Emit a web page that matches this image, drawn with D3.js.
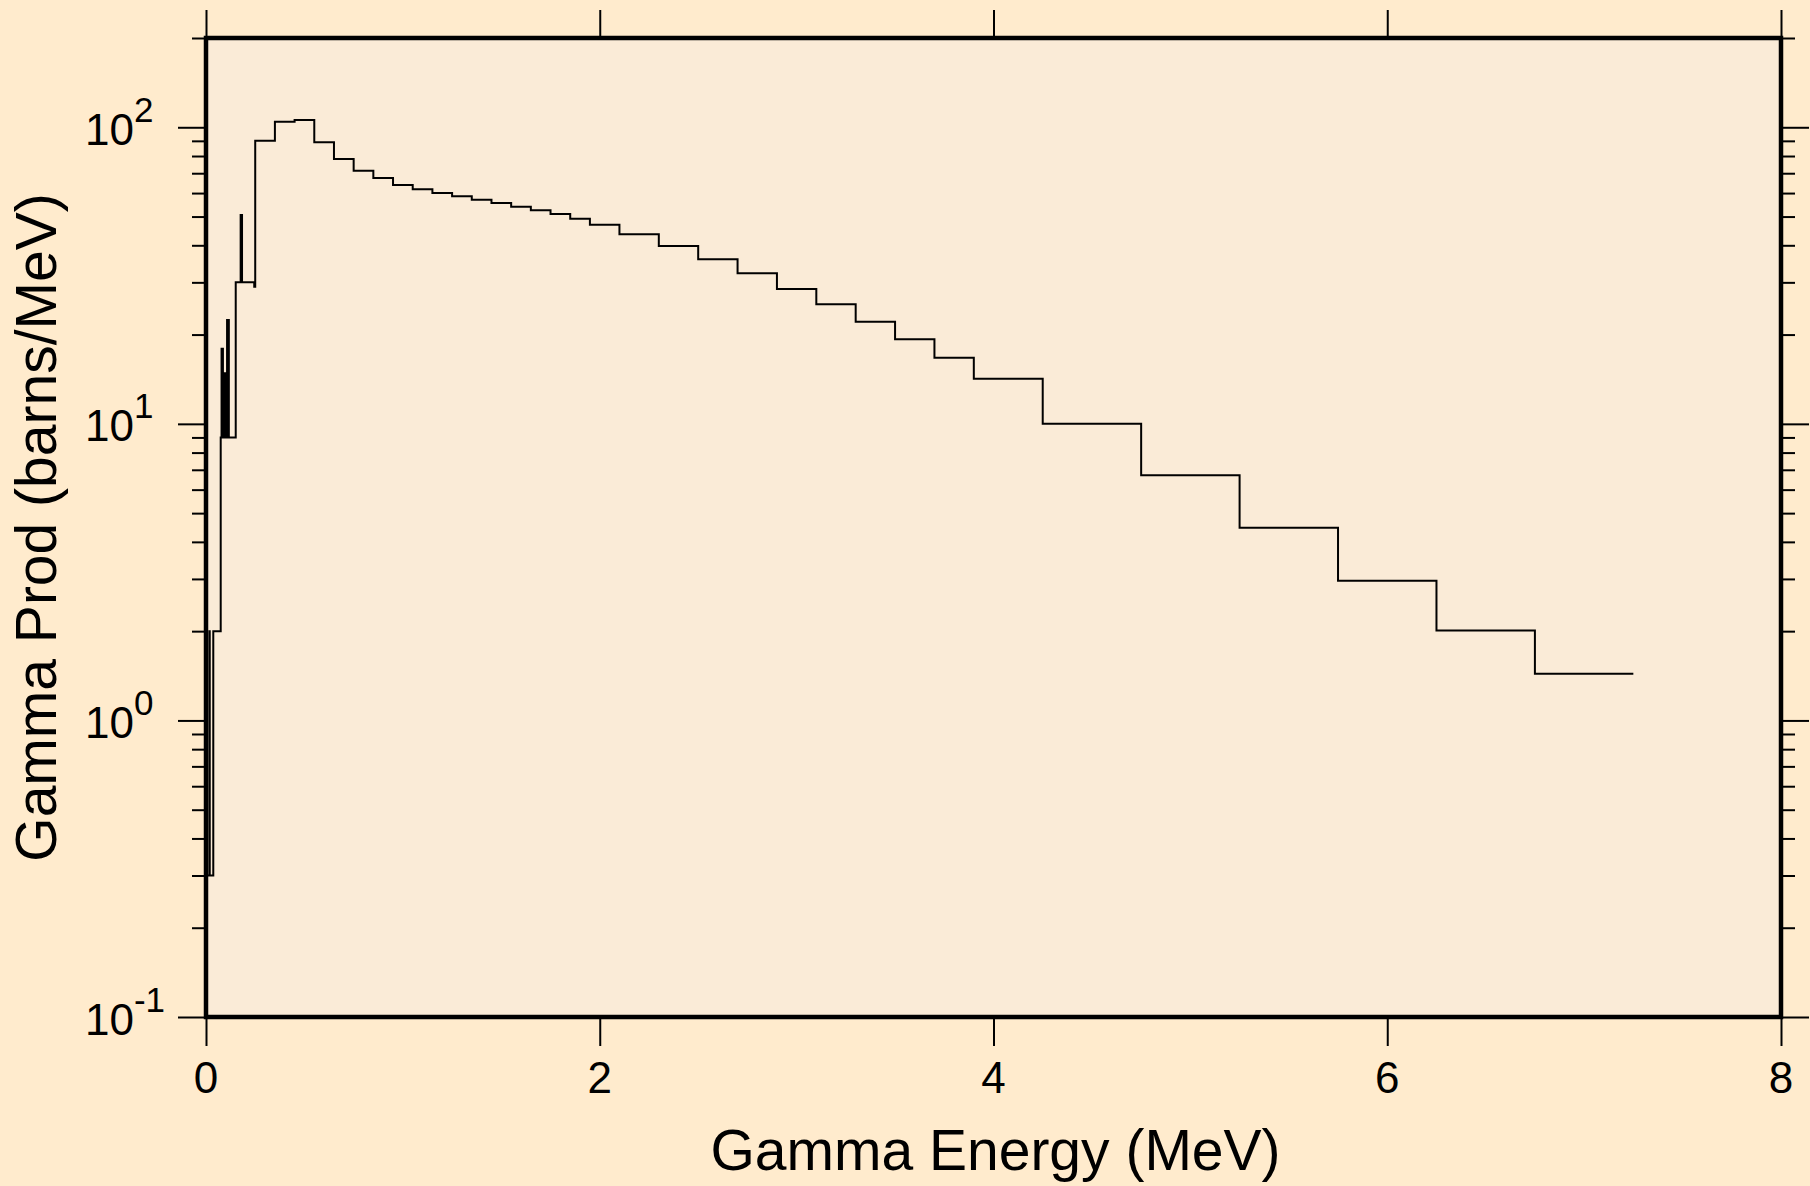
<!DOCTYPE html>
<html><head><meta charset="utf-8">
<script src="https://cdn.jsdelivr.net/npm/d3@7"></script>
<style>
html,body{margin:0;padding:0;background:#FFEBCD;}
svg{display:block;}
text{font-family:"Liberation Sans",Arial,Helvetica,sans-serif;fill:#000;}
</style>
</head><body>
<svg id="chart" width="1810" height="1186"></svg>
<script>
// Bin edges (MeV) and step values (barns/MeV)
const binEdges = [0.005, 0.017, 0.019, 0.037, 0.0747, 0.079, 0.081, 0.083, 0.086, 0.089, 0.092, 0.095, 0.098, 0.101, 0.104, 0.107, 0.110, 0.113, 0.116,
  0.151, 0.176, 0.183, 0.245, 0.25, 0.35, 0.45, 0.55, 0.65, 0.75, 0.85, 0.95, 1.05, 1.15, 1.25, 1.35, 1.45, 1.55, 1.65, 1.75, 1.85, 1.95,
  2.1, 2.3, 2.5, 2.7, 2.9, 3.1, 3.3, 3.5, 3.7, 3.9, 4.25, 4.75, 5.25, 5.75, 6.25, 6.75, 7.25];
const binValues = [0.3, 2.0, 0.3, 2.0, 9.0, 17.9, 9.0, 17.9, 9.0, 14.8, 9.0, 14.8, 9.0, 14.8, 9.0, 22.4, 9.0, 22.4, 9.0,
  30.0, 50.6, 30.0, 29.0, 90.1, 104.4, 105.8, 89.0, 78.2, 71.4, 67.4, 63.9, 61.8, 60.0, 58.5, 57.0, 55.5, 54.0, 52.5, 51.0, 49.2,
  46.9, 43.6, 39.8, 35.9, 32.2, 28.5, 25.3, 22.1, 19.3, 16.7, 14.2, 10.0, 6.71, 4.46, 2.96, 2.01, 1.437];
const baseValue = 0.1;

const xTickValues = [0, 2, 4, 6, 8];
const xTickLabels = ["0", "2", "4", "6", "8"];
const yMajorTicks = [0.1, 1, 10, 100];
const yTickExponents = ["-1", "0", "1", "2"];
const yMinorTicks = [0.2,0.3,0.4,0.5,0.6,0.7,0.8,0.9, 2,3,4,5,6,7,8,9, 20,30,40,50,60,70,80,90, 200];
const xTitle = "Gamma Energy (MeV)";
const yTitle = "Gamma Prod (barns/MeV)";

const svg = d3.select("#chart");
const L = 206, R = 1781, T = 38, B = 1017;
const x = d3.scaleLinear().domain([0, 8]).range([L, R]);
const y = d3.scaleLog().domain([0.1, 200]).range([B, T]);

svg.append("rect").attr("width", 1810).attr("height", 1186).attr("fill", "#FFEBCD");
svg.append("rect").attr("x", L).attr("y", T).attr("width", R - L).attr("height", B - T).attr("fill", "#FAEBD7");

// ticks
function styleAxis(g) {
  g.select(".domain").remove();
  g.selectAll(".tick line").attr("stroke", "#000").attr("stroke-width", 2);
  g.selectAll(".tick text").remove();
}
svg.append("g").attr("transform", `translate(${L},0)`).call(d3.axisLeft(y).tickValues(yMajorTicks).tickSize(28).tickFormat(() => "")).call(styleAxis);
svg.append("g").attr("transform", `translate(${L},0)`).call(d3.axisLeft(y).tickValues(yMinorTicks).tickSize(14).tickFormat(() => "")).call(styleAxis);
svg.append("g").attr("transform", `translate(${R},0)`).call(d3.axisRight(y).tickValues(yMajorTicks).tickSize(28).tickFormat(() => "")).call(styleAxis);
svg.append("g").attr("transform", `translate(${R},0)`).call(d3.axisRight(y).tickValues(yMinorTicks).tickSize(14).tickFormat(() => "")).call(styleAxis);
svg.append("g").attr("transform", `translate(0,${B})`).call(d3.axisBottom(x).tickValues(xTickValues).tickSize(29).tickFormat(() => "")).call(styleAxis);
svg.append("g").attr("transform", `translate(0,${T})`).call(d3.axisTop(x).tickValues(xTickValues).tickSize(28).tickFormat(() => "")).call(styleAxis);

// curve
const pts = [[binEdges[0], baseValue]];
binValues.forEach((v, i) => pts.push([binEdges[i], v]));
pts.push([binEdges[binEdges.length - 1], binValues[binValues.length - 1]]);
const line = d3.line().x(d => x(d[0])).y(d => y(d[1])).curve(d3.curveStepAfter);
svg.append("path").datum(pts).attr("d", line).attr("fill", "none").attr("stroke", "#000").attr("stroke-width", 2).attr("stroke-linejoin", "miter");

// frame
svg.append("rect").attr("x", L).attr("y", T).attr("width", R - L).attr("height", B - T)
  .attr("fill", "none").attr("stroke", "#000").attr("stroke-width", 4.5);

// x tick labels
svg.append("g").selectAll("text").data(xTickValues).join("text")
  .attr("x", d => x(d)).attr("y", 1093).attr("text-anchor", "middle").attr("font-size", 44)
  .text((d, i) => xTickLabels[i]);

// y tick labels
const yl = svg.append("g").selectAll("text").data(yMajorTicks).join("text")
  .attr("x", 85).attr("y", d => y(d) + 17.5).attr("font-size", 44);
yl.append("tspan").text("10");
yl.append("tspan").attr("font-size", 35).attr("dy", -23).text((d, i) => yTickExponents[i]);

// titles
svg.append("text").attr("x", (L + R) / 2 + 2).attr("y", 1170).attr("text-anchor", "middle").attr("font-size", 57).text(xTitle);
svg.append("text").attr("transform", `translate(56,${(T + B) / 2}) rotate(-90)`).attr("text-anchor", "middle").attr("font-size", 57).text(yTitle);
</script>
</body></html>
